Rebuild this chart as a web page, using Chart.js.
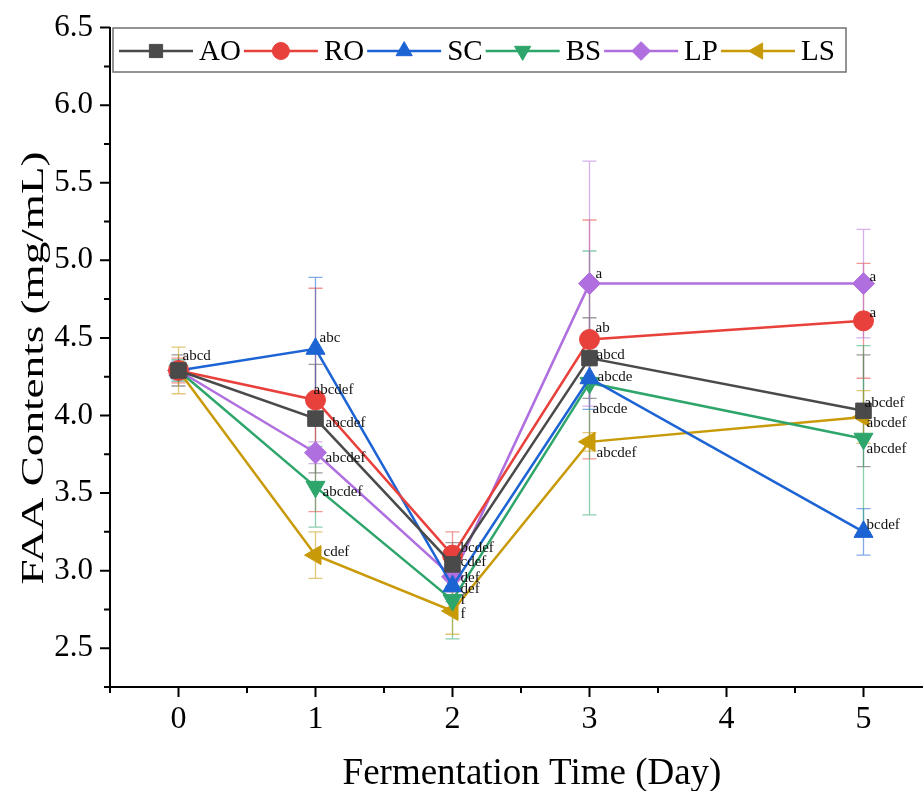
<!DOCTYPE html>
<html>
<head>
<meta charset="utf-8">
<script src="https://cdn.jsdelivr.net/npm/chart.js@4.4.1/dist/chart.umd.min.js"></script>
<style>
  html, body { margin: 0; padding: 0; overflow: hidden; background: #fff; }
  canvas { display: block; }
</style>
</head>
<body>
<canvas id="myChart" width="944" height="791"></canvas>
<script>
// data
const days = [0, 1, 2, 3, 5];
const seriesNames = ['AO', 'RO', 'SC', 'BS', 'LP', 'LS'];

const aoValues = [4.29, 3.98, 3.04, 4.37, 4.03];
const roValues = [4.29, 4.10, 3.10, 4.49, 4.61];
const scValues = [4.29, 4.43, 2.90, 4.24, 3.25];
const bsValues = [4.29, 3.54, 2.81, 4.21, 3.85];
const lpValues = [4.29, 3.76, 2.96, 4.85, 4.85];
const lsValues = [4.29, 3.10, 2.74, 3.83, 3.99];

const aoErrors = [0.10, 0.35, 0.14, 0.26, 0.36];
const roErrors = [0.08, 0.72, 0.15, 0.77, 0.37];
const scErrors = [0.06, 0.46, 0.10, 0.20, 0.15];
const bsErrors = [0.07, 0.26, 0.25, 0.85, 0.60];
const lpErrors = [0.05, 0.07, 0.10, 0.79, 0.35];
const lsErrors = [0.15, 0.15, 0.15, 0.06, 0.17];

const aoLetters = ['abcd', 'abcdef', 'cdef', 'abcd', 'abcdef'];
const roLetters = ['', 'abcdef', 'bcdef', 'ab', 'a'];
const scLetters = ['', 'abc', 'def', 'abcde', 'bcdef'];
const bsLetters = ['', 'abcdef', 'f', 'abcde', 'abcdef'];
const lpLetters = ['', 'abcdef', 'def', 'a', 'a'];
const lsLetters = ['', 'cdef', 'f', 'abcdef', 'abcdef'];

const xTickLabels = ['0', '1', '2', '3', '4', '5'];
const yTickLabels = ['2.5', '3.0', '3.5', '4.0', '4.5', '5.0', '5.5', '6.0', '6.5'];
const xTitle = 'Fermentation Time (Day)';
const yTitle = 'FAA Contents (mg/mL)';

// where each letter sits relative to its marker (px)
const letterNudge = [
  [[4, -14], [10, 4], [8, -2], [7, -3], [1, -8]],
  [null, [-2, -10], [8, -7], [6, -11], [6, -8]],
  [null, [4, -11], [8, 3], [3, 31], [3, -7]],
  [null, [7, 5], [8, 0], [8, -6], [3, 10]],
  [null, [10, 5], [8, 1], [6, -10], [6, -7]],
  [null, [8, -3], [8, 3], [7, 11], [3, 6]]
];

const serif = '"Liberation Serif", "Times New Roman", serif';

const looks = [
  { color: '#4a4a4a', point: 'rect', radius: 11, rot: 0 },
  { color: '#e8413c', point: 'circle', radius: 10, rot: 0 },
  { color: '#1c63d4', point: 'triangle', radius: 11, rot: 0 },
  { color: '#2da56b', point: 'triangle', radius: 11, rot: 180 },
  { color: '#b06fde', point: 'rectRot', radius: 11, rot: 0 },
  { color: '#c99a08', point: 'triangle', radius: 11, rot: 270 }
];

const allValues = [aoValues, roValues, scValues, bsValues, lpValues, lsValues];
const allErrors = [aoErrors, roErrors, scErrors, bsErrors, lpErrors, lsErrors];
const allLetters = [aoLetters, roLetters, scLetters, bsLetters, lpLetters, lsLetters];

const datasets = seriesNames.map((name, i) => ({
  label: name,
  data: days.map((d, j) => ({ x: d, y: allValues[i][j] })),
  errors: allErrors[i],
  letters: allLetters[i],
  borderColor: looks[i].color,
  backgroundColor: looks[i].color,
  pointBackgroundColor: looks[i].color,
  pointBorderColor: looks[i].color,
  pointStyle: looks[i].point,
  pointRadius: looks[i].radius,
  pointRotation: looks[i].rot,
  pointBorderWidth: 1,
  borderWidth: 2.5,
  tension: 0,
  clip: false
}));

function hexAlpha(hex, a) {
  const n = parseInt(hex.slice(1), 16);
  return 'rgba(' + (n >> 16) + ',' + ((n >> 8) & 255) + ',' + (n & 255) + ',' + a + ')';
}

// error bars behind the lines
const errorBars = {
  id: 'errorBars',
  beforeDatasetsDraw(chart) {
    const ctx = chart.ctx, xs = chart.scales.x, ys = chart.scales.y;
    ctx.save();
    ctx.lineWidth = 1.3;
    chart.data.datasets.forEach((ds) => {
      ctx.strokeStyle = hexAlpha(ds.borderColor, 0.55);
      ds.data.forEach((p, j) => {
        const e = ds.errors[j];
        const px = xs.getPixelForValue(p.x);
        const top = ys.getPixelForValue(p.y + e);
        const bot = ys.getPixelForValue(p.y - e);
        ctx.beginPath();
        ctx.moveTo(px, top); ctx.lineTo(px, bot);
        ctx.moveTo(px - 7, top); ctx.lineTo(px + 7, top);
        ctx.moveTo(px - 7, bot); ctx.lineTo(px + 7, bot);
        ctx.stroke();
      });
    });
    ctx.restore();
  }
};

// significance letters + legend box
const overlay = {
  id: 'overlay',
  afterDatasetsDraw(chart) {
    const ctx = chart.ctx, xs = chart.scales.x, ys = chart.scales.y;
    ctx.save();
    ctx.fillStyle = '#111';
    ctx.font = '15px ' + serif;
    ctx.textAlign = 'left';
    ctx.textBaseline = 'middle';
    chart.data.datasets.forEach((ds, i) => {
      ds.data.forEach((p, j) => {
        const t = ds.letters[j];
        if (!t) return;
        const nd = letterNudge[i][j] || [6, -8];
        ctx.fillText(t, xs.getPixelForValue(p.x) + nd[0], ys.getPixelForValue(p.y) + nd[1]);
      });
    });

    // legend
    const bx = 113, by = 28, bw = 733, bh = 44;
    ctx.fillStyle = '#fff';
    ctx.fillRect(bx, by, bw, bh);
    ctx.strokeStyle = '#707070';
    ctx.lineWidth = 1.5;
    ctx.strokeRect(bx, by, bw, bh);
    ctx.font = '29px ' + serif;
    const cy = by + bh / 2 + 1;
    let x = bx + 6;
    chart.data.datasets.forEach((ds) => {
      ctx.strokeStyle = ds.borderColor;
      ctx.lineWidth = 2.5;
      ctx.beginPath();
      ctx.moveTo(x, cy); ctx.lineTo(x + 74, cy);
      ctx.stroke();
      ctx.fillStyle = ds.borderColor;
      ctx.lineWidth = 1;
      Chart.helpers.drawPoint(ctx, {
        pointStyle: ds.pointStyle, radius: ds.pointRadius * 0.85,
        rotation: ds.pointRotation, borderWidth: 1
      }, x + 37, cy);
      ctx.fillStyle = '#000';
      ctx.fillText(ds.label, x + 80, cy + 1);
      x += 80 + ctx.measureText(ds.label).width + 3;
    });
    ctx.restore();
  }
};

// Origin-style outward ticks and the two axis titles
const axisDecor = {
  id: 'axisDecor',
  afterDraw(chart) {
    const ctx = chart.ctx, xs = chart.scales.x, ys = chart.scales.y;
    const a = chart.chartArea;
    ctx.save();
    ctx.strokeStyle = '#000';
    ctx.lineWidth = 2;
    ctx.beginPath();
    ys.ticks.forEach(t => {
      const py = ys.getPixelForValue(t.value);
      const major = Math.abs(t.value * 2 - Math.round(t.value * 2)) < 1e-6;
      ctx.moveTo(a.left - (major ? 10 : 6), py); ctx.lineTo(a.left, py);
    });
    xs.ticks.forEach(t => {
      const px = xs.getPixelForValue(t.value);
      const major = Math.abs(t.value - Math.round(t.value)) < 1e-6;
      ctx.moveTo(px, a.bottom); ctx.lineTo(px, a.bottom + (major ? 10 : 6));
    });
    ctx.stroke();

    ctx.fillStyle = '#000';
    ctx.textAlign = 'center';
    ctx.textBaseline = 'alphabetic';
    ctx.font = '37px ' + serif;
    ctx.fillText(xTitle, 532, 784);

    ctx.font = '31px ' + serif;
    const w = ctx.measureText(yTitle).width;
    ctx.translate(43, 368);
    ctx.rotate(-Math.PI / 2);
    ctx.scale(433 / w, 1);
    ctx.fillText(yTitle, 0, 0);
    ctx.restore();
  }
};

const ctx = document.getElementById('myChart').getContext('2d');
const myChart = new Chart(ctx, {
  type: 'line',
  data: { datasets: datasets },
  options: {
    responsive: false,
    animation: false,
    devicePixelRatio: 1,
    layout: { padding: { top: 24, right: 2, left: 0, bottom: 0 } },
    plugins: { legend: { display: false }, tooltip: { enabled: false } },
    scales: {
      x: {
        type: 'linear',
        min: -0.5,
        max: 5.5,
        grid: { display: false },
        border: { display: true, color: '#000', width: 2 },
        ticks: {
          stepSize: 0.5,
          autoSkip: false,
          maxRotation: 0,
          padding: 5,
          color: '#000',
          font: { family: serif, size: 32 },
          callback: v => {
            const s = String(Math.round(v * 1e6) / 1e6);
            return xTickLabels.includes(s) ? s : '';
          }
        },
        title: { display: false },
        afterFit: s => { s.height = 104; }
      },
      y: {
        min: 2.25,
        max: 6.5,
        grid: { display: false },
        border: { display: true, color: '#000', width: 2 },
        ticks: {
          stepSize: 0.25,
          autoSkip: false,
          padding: 9,
          color: '#000',
          font: { family: serif, size: 31 },
          callback: v => {
            const s = v.toFixed(1);
            return Math.abs(v * 2 - Math.round(v * 2)) < 1e-6 && yTickLabels.includes(s) ? s : '';
          }
        },
        title: { display: false },
        afterFit: s => { s.width = 110; }
      }
    }
  },
  plugins: [errorBars, overlay, axisDecor]
});
</script>
</body>
</html>
